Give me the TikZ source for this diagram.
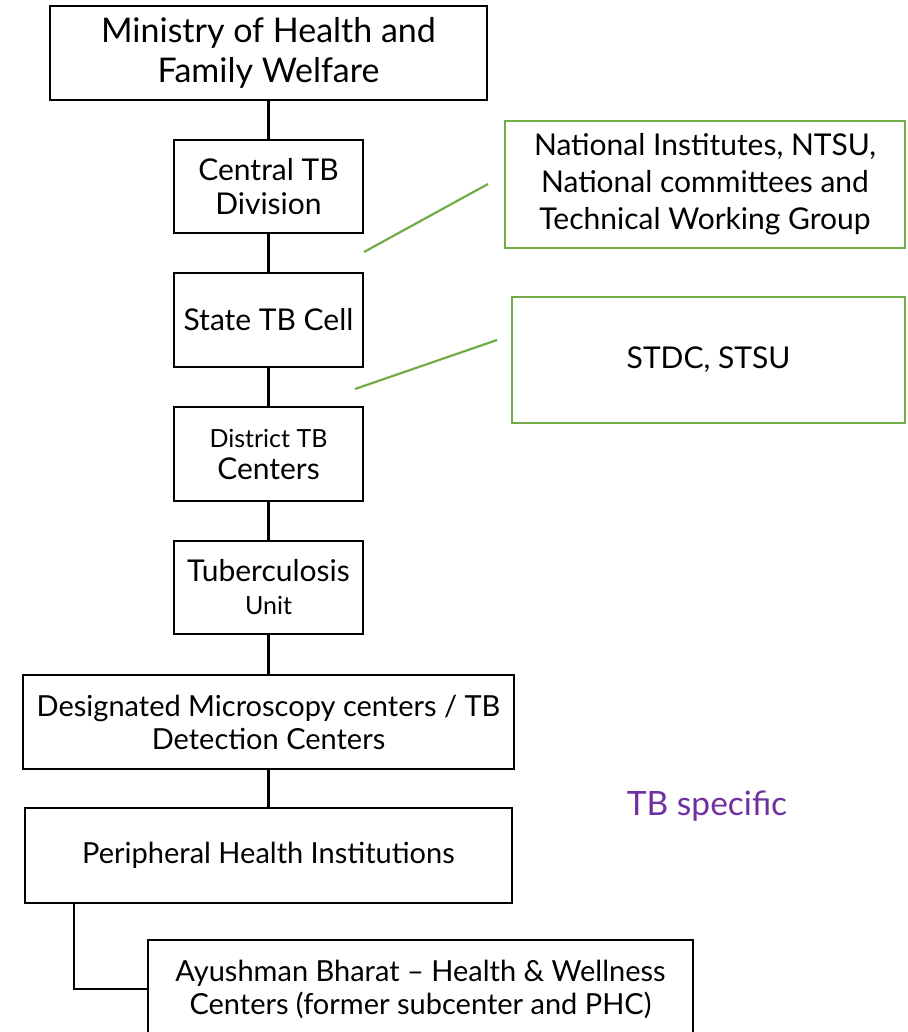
\documentclass[tikz,border=0pt]{standalone}
\usepackage{fontspec}
\setmainfont{Lato}
\definecolor{boxgreen}{RGB}{112,173,71}
\definecolor{tbpurple}{RGB}{112,48,160}
\begin{document}
\begin{tikzpicture}[x=1pt,y=-1pt,
  blk/.style={draw=black,line width=2.6pt,align=center,inner sep=0pt,fill=white},
  grn/.style={draw=boxgreen,line width=2.2pt,align=center,inner sep=0pt,fill=white},
  conn/.style={line width=2.2pt,draw=black},
  gconn/.style={line width=2.2pt,draw=boxgreen},
  big/.style={font=\fontsize{34}{40}\selectfont},
  mid/.style={font=\fontsize{30}{34}\selectfont},
  low/.style={font=\fontsize{29}{33}\selectfont},
]
\useasboundingbox (0,0) rectangle (907,1032);
\node[blk,big,minimum width=437pt,minimum height=94pt] (mohfw) at (268.5,53) {Ministry of Health and\\Family Welfare};
\node[blk,mid,minimum width=189pt,minimum height=93pt] (ctd) at (268.5,186.5) {Central TB\\Division};
\node[blk,mid,minimum width=189pt,minimum height=94pt] (stc) at (268.5,320) {State TB Cell};
\node[blk,font=\fontsize{30}{32}\selectfont,minimum width=189pt,minimum height=94pt] (dtc) at (268.5,454) {{\fontsize{25}{32}\selectfont District TB}\\Centers};
\node[blk,font=\fontsize{30}{33}\selectfont,minimum width=189pt,minimum height=93pt] (tu) at (268.5,587.5) {Tuberculosis\\{\fontsize{25}{33}\selectfont Unit}};
\node[blk,low,minimum width=491pt,minimum height=94pt] (dmc) at (268.5,722) {Designated Microscopy centers / TB\\Detection Centers};
\node[blk,low,minimum width=487pt,minimum height=95pt] (phi) at (268.5,855.5) {Peripheral Health Institutions};
\node[blk,low,minimum width=545pt,minimum height=98pt] (hwc) at (420.5,989) {Ayushman Bharat -- Health \& Wellness\\Centers (former subcenter and PHC)};
\node[grn,font=\fontsize{30}{37}\selectfont,minimum width=400pt,minimum height=127pt] (ni) at (705,184.5) {National Institutes, NTSU,\\National committees and\\Technical Working Group};
\node[grn,mid,minimum width=393pt,minimum height=126pt] (stdc) at (708.5,360) {STDC, STSU};
\node[text=tbpurple,font=\fontsize{33.5}{38}\selectfont] (tbs) at (707,806) {TB specific};
\coordinate (g1a) at (364,252);
\coordinate (g1b) at (488,184);
\coordinate (g2a) at (355,389);
\coordinate (g2b) at (497,340);
\coordinate (pbend) at (74,989);
\draw[conn] (mohfw.south) -- (ctd.north);
\draw[conn] (ctd.south) -- (stc.north);
\draw[conn] (stc.south) -- (dtc.north);
\draw[conn] (dtc.south) -- (tu.north);
\draw[conn] (tu.south) -- (dmc.north);
\draw[conn] (dmc.south) -- (phi.north);
\draw[conn] (phi.south -| pbend) -- (pbend) -- (hwc.west |- pbend);
\draw[gconn] (g1a) -- (g1b);
\draw[gconn] (g2a) -- (g2b);
\end{tikzpicture}
\end{document}
